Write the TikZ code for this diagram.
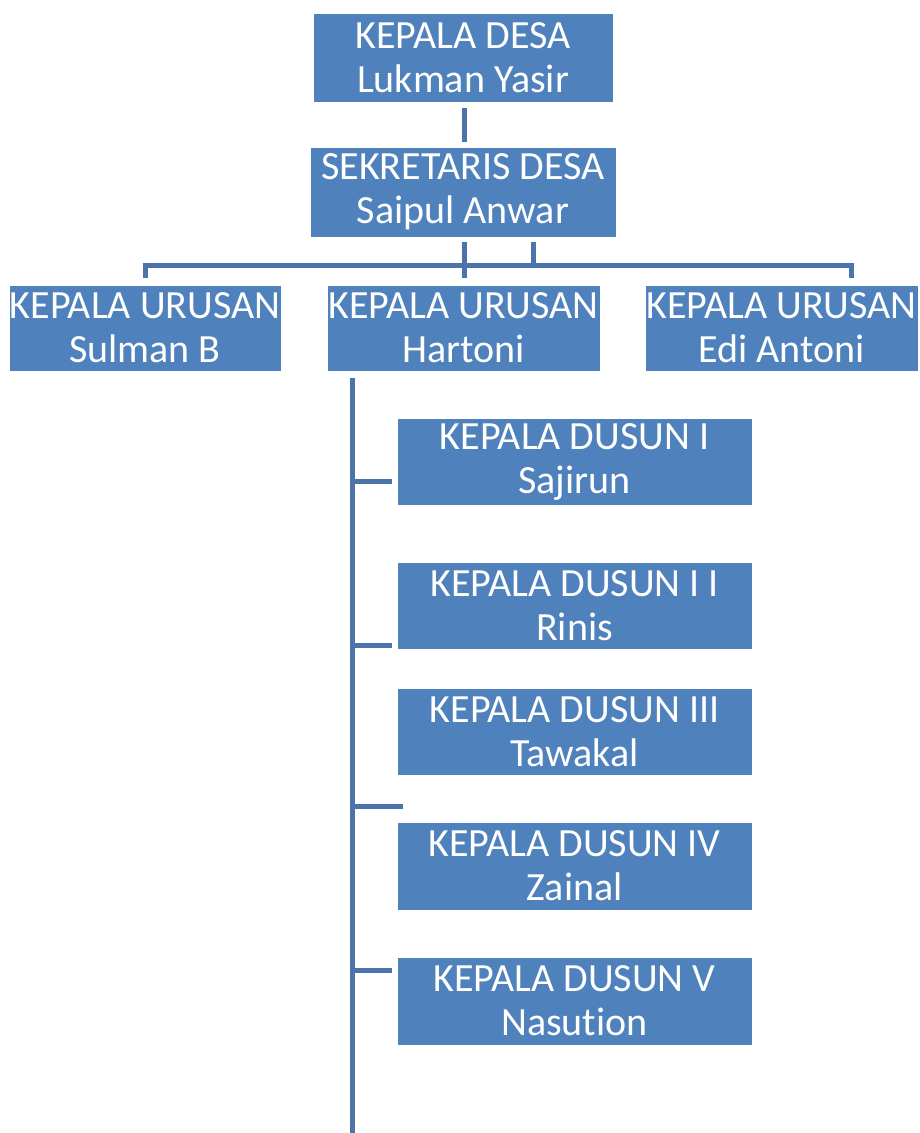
\documentclass[tikz,border=0pt]{standalone}
\usepackage{fontspec}
\setmainfont[Ligatures={NoCommon}]{Carlito}
\definecolor{boxblue}{HTML}{4F81BD}
\definecolor{lineblue}{HTML}{4A74AA}
\begin{document}
\begin{tikzpicture}[x=1pt,y=-1pt,
  box/.style={fill=boxblue,draw=white,line width=0.8pt,text=white,align=center,inner sep=0pt,
    font=\fontsize{40}{44}\selectfont},
  conn/.style={draw=lineblue,line width=5pt}]
\useasboundingbox (0,0) rectangle (920,1133);
\node[box,minimum width=300,minimum height=89] (kd) at (463,57.5) {KEPALA DESA\\Lukman Yasir};
\node[box,minimum width=306,minimum height=90] (sd) at (463,192) {SEKRETARIS DESA\\Saipul Anwar};
\node[box,minimum width=272,minimum height=86] (u1) at (145,328) {KEPALA URUSAN\\Sulman B};
\node[box,minimum width=273,minimum height=86] (u2) at (463.5,328) {KEPALA URUSAN\\Hartoni};
\node[box,minimum width=273,minimum height=86] (u3) at (781.5,328) {KEPALA URUSAN\\Edi Antoni};
\node[box,minimum width=355,minimum height=87] (d1) at (574.5,461.5) {KEPALA DUSUN I\\Sajirun};
\node[box,minimum width=355,minimum height=87] (d2) at (574.5,605.5) {KEPALA DUSUN I I\\Rinis};
\node[box,minimum width=355,minimum height=87] (d3) at (574.5,731.5) {KEPALA DUSUN III\\Tawakal};
\node[box,minimum width=355,minimum height=88] (d4) at (574.5,866) {KEPALA DUSUN IV\\Zainal};
\node[box,minimum width=355,minimum height=88] (d5) at (574.5,1001) {KEPALA DUSUN V\\Nasution};
% connectors
\coordinate (k1) at (464,108);
\coordinate (k2) at (464,142);
\draw[conn] (k1) -- (k2);
\coordinate (s1) at (464,242);
\coordinate (s2) at (464,278);
\coordinate (s3) at (533,242);
\coordinate (s4) at (533,265);
\coordinate (bl) at (145,278);
\coordinate (br) at (851,278);
\draw[conn] (s1) -- (s2);
\draw[conn] (s3) -- (s4);
\draw[conn] (bl) -- (145,265) -- (851,265) -- (br);
\coordinate (vt) at (352,378);
\coordinate (vb) at (352,1133);
\draw[conn] (vt) -- (vb);
\coordinate (h1) at (392,481);
\coordinate (h2) at (392,645);
\coordinate (h3) at (403,806);
\coordinate (h4) at (392,970);
\draw[conn] (352,481) -- (h1);
\draw[conn] (352,645) -- (h2);
\draw[conn] (352,806) -- (h3);
\draw[conn] (352,970) -- (h4);
\end{tikzpicture}
\end{document}
